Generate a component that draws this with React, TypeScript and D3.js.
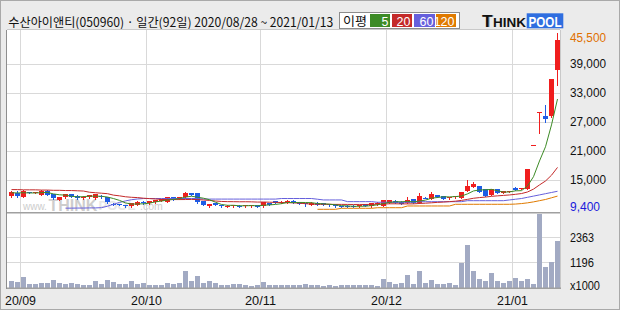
import React from 'react';
import * as d3 from 'd3';

const dates = [
  '2020-08-28','2020-08-31',
  '2020-09-01','2020-09-02','2020-09-03','2020-09-04','2020-09-07','2020-09-08','2020-09-09','2020-09-10','2020-09-11',
  '2020-09-14','2020-09-15','2020-09-16','2020-09-17','2020-09-18','2020-09-21','2020-09-22','2020-09-23','2020-09-24',
  '2020-09-25','2020-09-28','2020-09-29',
  '2020-10-05','2020-10-06','2020-10-07','2020-10-08','2020-10-12','2020-10-13','2020-10-14','2020-10-15','2020-10-16',
  '2020-10-19','2020-10-20','2020-10-21','2020-10-22','2020-10-23','2020-10-26','2020-10-27','2020-10-28','2020-10-29','2020-10-30',
  '2020-11-02','2020-11-03','2020-11-04','2020-11-05','2020-11-06','2020-11-09','2020-11-10','2020-11-11','2020-11-12','2020-11-13',
  '2020-11-16','2020-11-17','2020-11-18','2020-11-19','2020-11-20','2020-11-23','2020-11-24','2020-11-25','2020-11-26','2020-11-27','2020-11-30',
  '2020-12-01','2020-12-02','2020-12-03','2020-12-04','2020-12-07','2020-12-08','2020-12-09','2020-12-10','2020-12-11',
  '2020-12-14','2020-12-15','2020-12-16','2020-12-17','2020-12-18','2020-12-21','2020-12-22','2020-12-23','2020-12-24',
  '2020-12-28','2020-12-29','2020-12-30',
  '2021-01-04','2021-01-05','2021-01-06','2021-01-07','2021-01-08','2021-01-11','2021-01-12','2021-01-13',
];

const opens = [11560,12180,11470,12350,12250,11830,12700,11970,10790,11350,12030,11680,11140,11350,11140,11680,11470,10000,9950,9750,
  9450,9750,10400,10100,10310,10580,10440,11470,11000,11350,12180,12180,10600,9500,10200,9800,9420,9450,9550,9450,
  9450,9650,9450,10200,10500,10150,10150,10650,10300,10150,9800,10250,10100,9900,9900,9500,9600,9600,9450,9900,
  9450,9900,9600,10250,10650,10450,10250,10950,10250,11300,11000,11800,11600,11150,11350,11250,12650,13550,13700,13000,
  11800,13000,12300,12400,13350,13050,13100,22300,28950,28300,28300,37750];
const highs = [12700,12650,12800,12500,12450,12800,12900,12050,11400,12100,12100,11750,11550,11900,12100,11750,11500,10150,10050,9800,
  10200,10500,10500,10650,10850,11000,11500,11500,11500,12500,12250,12250,10650,10000,10250,9850,9650,9800,9750,9700,
  9700,9700,10350,10250,10550,10500,10700,10700,10350,10200,10300,10300,10150,9950,9950,9600,9650,9650,9700,9950,
  10150,10300,10850,10850,10700,10500,11350,11000,12200,11400,12400,11850,11650,11500,11650,12550,14850,14500,13750,13050,
  13050,13050,12700,12700,13400,13300,17150,22300,28950,30500,35850,45500];
const lows = [11350,11350,11400,12150,12200,11800,11800,11100,10700,11300,11450,11100,11100,11300,11100,11300,10250,9800,9750,9420,
  9400,9700,10050,10050,10250,10550,10400,10750,10950,11300,11800,10100,9700,9400,9650,9420,9400,9420,9400,9420,
  9420,9400,9400,9800,10100,10100,10100,10100,9950,9450,9750,9750,9750,9600,9420,9400,9420,9420,9420,9450,
  9400,9850,9550,10200,10200,9900,10200,10200,10200,11150,10950,11450,10950,11100,11300,11200,12600,13500,12450,11650,
  11750,12250,12250,12350,12800,13000,13000,22300,24600,27050,28000,34650];
const closes = [12350,11620,12650,12250,12400,12650,11830,11140,11350,12030,11470,11140,11470,11830,12030,11350,10310,9950,9900,9450,
  10100,10440,10100,10580,10790,10940,11470,10790,11470,12300,11830,10440,9750,9950,9700,9450,9600,9750,9500,9650,
  9650,9420,10300,9850,10150,10450,10650,10150,10000,10100,10250,9800,9800,9650,9450,9450,9450,9450,9650,9500,
  10100,10250,10800,10800,10250,9950,10800,10250,11600,11250,11950,11500,11000,11450,11600,12500,13750,14050,12500,11700,
  13000,12300,12650,12650,12850,13200,17150,22300,28950,27600,35850,44000];
// volume, x1000 shares
const volumes = [298,251,486,188,173,204,204,345,204,173,204,173,126,141,298,173,345,251,173,173,
  298,173,204,126,126,126,204,188,204,769,298,533,204,298,204,141,126,157,157,126,
  78,110,251,126,110,110,110,110,126,157,110,110,78,110,78,110,110,110,110,110,
  110,78,392,251,188,204,580,157,769,204,345,173,173,204,110,1145,1993,769,392,298,
  675,298,204,298,439,298,392,157,3450,957,1192,2181];

const ma5 = [12300,12250,12300,12250,12250,12310,12360,12050,11870,11800,11560,11430,11490,11590,11590,11560,11400,11090,10710,10190,
  9940,9970,10000,10130,10400,10570,10780,10910,11090,11390,11570,11370,11160,10850,10330,9860,9690,9690,9600,9590,
  9630,9590,9700,9770,9870,10030,10280,10250,10280,10270,10230,10060,9990,9920,9790,9630,9560,9490,9490,9500,
  9630,9790,10060,10290,10440,10410,10520,10410,10570,10770,11170,11310,11460,11430,11500,11610,12060,12670,12880,12900,
  13000,12710,12430,12460,12690,12730,13700,15630,18890,21840,26370,31740];
const ma20 = [12950,12950,12900,12900,12900,12850,12850,12800,12800,12750,12750,12700,12650,12400,12300,12200,12100,11800,11650,
  11460,11350,11290,11160,11080,11000,10910,10890,10880,10880,10890,10910,10880,10790,10700,10580,10490,10450,10440,10420,10430,
  10410,10360,10370,10330,10300,10270,10230,10200,10130,10020,9940,9910,9910,9890,9880,9880,9870,9860,9870,9860,
  9880,9920,9950,10000,10000,9980,9980,9990,10070,10130,10210,10300,10360,10450,10550,10710,10920,11150,11290,11400,
  11550,11650,11740,11840,11970,12130,12450,13050,13920,14730,15930,17550];
const N = null;
const ma60 = [N,N,N,N,N,N,N,N,N,
  9100,9100,9120,9120,9150,9150,9200,9500,9900,10300,10600,10850,11000,
  11100,11100,11100,11100,11100,11100,11100,11100,11100,11100,
  10980,10980,10980,10980,10980,10980,10980,10980,10980,10980,10980,10980,10980,
  11100,11100,11100,11100,11100,11100,10950,10800,10800,10800,10800,
  10450,10450,10450,10450,10450,10320,10320,10320,10320,10320,10320,10320,
  10440,10440,10440,10440,10440,10440,10440,10440,10650,10650,10650,10650,10650,10650,10650,
  10800,10950,11100,11350,11600,11850,12100,12350,12600];
const ma120 = [N,N,N,N,N,N,N,N,N,N,N,N,N,N,N,N,N,N,N,N,N,N,N,N,N,N,N,N,N,N,
  N,N,N,N,N,N,N,N,N,N,N,N,N,N,N,N,N,N,N,N,N,
  8860,8860,8860,8860,9070,9070,9070,9070,9070,9070,9190,9190,9190,9190,9190,
  9550,9550,9550,9550,9550,9550,9550,9550,9900,9900,9900,9900,9900,9900,9900,9900,9900,9900,
  9950,10050,10200,10400,10650,10900,11250,11600];

const priceTicks = [39000, 33000, 27000, 21000, 15000];
const priceMax = 45500;
const priceMin = 9400;
const volTicks = [2363, 1196];
const maPeriods = ['5', '20', '60', '120'];
const maColors = ['#3d8b26', '#c42a2a', '#6660dc', '#e07a00'];

const FONT = '"Liberation Sans", Arial, sans-serif';
const KFONT = '"Noto Sans CJK KR", "Noto Sans", sans-serif';

export default function App() {
  const n = closes.length;
  const idx = d3.range(n);
  const xLeft = d3.scaleLinear().domain([0, n - 1]).range([9, 555]);
  const bw = 5;
  const cx = (i: number) => xLeft(i) + 2.5;
  const y = d3.scaleLinear().domain([priceMin, priceMax]).range([206.7, 32.7]);
  const yv = d3.scaleLinear().domain([0, volTicks[0]]).range([287.7, 237.3]);

  const plotL = 7, plotR = 560, pTop = 30, pBot = 212, vTop = 213, vBot = 288;

  const monthStarts = idx.filter(i => i > 0 && dates[i].slice(5, 7) !== dates[i - 1].slice(5, 7));
  const fmt = (i: number) => `${dates[i].slice(2, 4)}/${dates[i].slice(5, 7)}`;

  const maLine = (arr: (number | null)[]) =>
    d3.line<number>()
      .defined(i => arr[i] != null)
      .x(i => cx(i))
      .y(i => y(arr[i] as number))(idx) || '';

  const fmtK = d3.format(',');
  const red = '#f01e1e', blue = '#1e5ce6';

  return (
    <svg width={620} height={310} style={{ position: 'absolute', left: 0, top: 0, display: 'block' }}
      xmlns="http://www.w3.org/2000/svg">
      <defs>
        <clipPath id="pclip"><rect x={plotL} y={pTop} width={plotR - plotL} height={pBot - pTop} /></clipPath>
        <clipPath id="vclip"><rect x={plotL} y={vTop - 1} width={plotR - plotL} height={vBot - vTop + 1} /></clipPath>
      </defs>
      <rect x={0} y={0} width={620} height={310} fill="#ebebeb" />
      <rect x={0.5} y={0.5} width={619} height={309} fill="none" stroke="#a9a9a9" />

      {/* header */}
      <text x={8.3} y={27} fontFamily={KFONT} fontSize={12.5} fill="#111" textLength={325} lengthAdjust="spacingAndGlyphs">
        수산아이앤티(050960) · 일간(92일) 2020/08/28 ~ 2021/01/13
      </text>
      <rect x={339.5} y={12.5} width={120} height={16} fill="#fff" stroke="#8c8c8c" />
      <text x={343} y={26} fontFamily={KFONT} fontSize={12.5} fill="#111" textLength={24} lengthAdjust="spacingAndGlyphs">이평</text>
      {maPeriods.map((p, k) => {
        const bx = [370, 392, 414, 436][k];
        const w = [20, 20, 21, 20][k];
        return (
          <g key={p}>
            <rect x={bx} y={14} width={w} height={13} fill={maColors[k]} />
            <text x={bx + w - 1.5} y={25.5} textAnchor="end" fontFamily={FONT} fontSize={12.5} fill="#fff">{p}</text>
          </g>
        );
      })}
      {/* logo */}
      <text x={483} y={27.3} fontFamily={FONT} fontWeight="bold" fontSize={17} fill="#999">T</text>
      <text x={482} y={26.5} fontFamily={FONT} fontWeight="bold" fontSize={17} fill="#111">T</text>
      <text x={493} y={26.5} fontFamily={FONT} fontWeight="bold" fontSize={12.5} fill="#111" textLength={33} lengthAdjust="spacingAndGlyphs">HINK</text>
      <rect x={526.7} y={13.3} width={36.6} height={15} fill="#2f6ee0" />
      <text x={528.5} y={26.5} fontFamily={FONT} fontWeight="bold" fontSize={15} fill="#fff" textLength={33} lengthAdjust="spacingAndGlyphs">POOL</text>

      {/* plot backgrounds */}
      <rect x={plotL} y={pTop} width={plotR - plotL} height={vBot - pTop} fill="#fff" />

      {/* grid */}
      {priceTicks.map(t => (
        <line key={t} x1={plotL} x2={plotR} y1={Math.round(y(t)) + 0.5} y2={Math.round(y(t)) + 0.5} stroke="#d9d9d9" />
      ))}
      {volTicks.map(t => (
        <line key={t} x1={plotL} x2={plotR} y1={Math.round(yv(t)) + 0.5} y2={Math.round(yv(t)) + 0.5} stroke="#d9d9d9" />
      ))}
      {monthStarts.map(i => (
        <line key={i} x1={xLeft(i) - 0.5} x2={xLeft(i) - 0.5} y1={pTop} y2={vBot} stroke="#d9d9d9" />
      ))}

      {/* watermark */}
      <g fontFamily={FONT} fill="#cdcdcd">
        <text x={23} y={210} fontSize={10}>www.</text>
        <text x={48.5} y={211} fontSize={16} fontWeight="bold">THINK</text>
        <text x={98.5} y={210} fontSize={13} fontWeight="bold" fill="#e6e6e6">POOL</text>
        <text x={140} y={210} fontSize={10.5}>.com</text>
      </g>

      {/* volume */}
      <g clipPath="url(#vclip)">
        {idx.map(i => {
          const top = Math.round(yv(volumes[i]));
          return <rect key={i} x={xLeft(i)} y={top} width={bw} height={Math.max(0, Math.round(vBot) - top)}
            fill="#a2aac3" shapeRendering="crispEdges" />;
        })}
      </g>

      {/* candles */}
      <g clipPath="url(#pclip)">
        {idx.map(i => {
          const up = closes[i] >= opens[i];
          const c = up ? red : blue;
          const yo = Math.round(y(opens[i])), yc = Math.round(y(closes[i]));
          const top = Math.min(yo, yc);
          const h = Math.max(1, Math.abs(yo - yc));
          return (
            <g key={i}>
              <line x1={cx(i)} x2={cx(i)} y1={Math.round(y(highs[i]))} y2={Math.round(y(lows[i])) + 1} stroke={c} />
              <rect x={xLeft(i)} y={top} width={bw} height={h} fill={c} shapeRendering="crispEdges" />
            </g>
          );
        })}
        {[ma120, ma60, ma20, ma5].map((arr, k) => (
          <path key={k} d={maLine(arr)} fill="none" stroke={maColors[3 - k]} strokeWidth={1} />
        ))}
      </g>

      {/* frame */}
      <line x1={plotL - 0.5} x2={plotL - 0.5} y1={pTop} y2={vBot + 1} stroke="#8e8e8e" />
      <line x1={plotL} x2={plotR} y1={pTop - 0.5} y2={pTop - 0.5} stroke="#c9c9c9" />
      <line x1={plotR + 0.5} x2={plotR + 0.5} y1={pTop} y2={vBot} stroke="#c9c9c9" />
      <rect x={plotL} y={pBot} width={plotR - plotL} height={1.5} fill="#a0a0a0" />
      <rect x={plotL} y={vBot - 0.5} width={plotR - plotL + 1} height={1.5} fill="#a0a0a0" />

      {/* right axis labels */}
      <g fontFamily={FONT} fontSize={12}>
        <text x={570} y={38.3} dominantBaseline="central" fill="#e07000" textLength={36} lengthAdjust="spacingAndGlyphs">{fmtK(priceMax)}</text>
        {priceTicks.map(t => (
          <text key={t} x={570} y={y(t)} dominantBaseline="central" fill="#111" textLength={36} lengthAdjust="spacingAndGlyphs">{fmtK(t)}</text>
        ))}
        <text x={570} y={206.7} dominantBaseline="central" fill="#1a1adc" textLength={30} lengthAdjust="spacingAndGlyphs">{fmtK(priceMin)}</text>
        {volTicks.map(t => (
          <text key={t} x={570} y={yv(t) + 0.8} dominantBaseline="central" fill="#111" textLength={24} lengthAdjust="spacingAndGlyphs">{t}</text>
        ))}
        <text x={570} y={285.7} dominantBaseline="central" fill="#111" textLength={30} lengthAdjust="spacingAndGlyphs">x1000</text>
      </g>

      {/* x labels */}
      <g fontFamily={FONT} fontSize={12} fill="#111">
        {monthStarts.map(i => (
          <text key={i} x={xLeft(i) - 0.5} y={301} textAnchor="middle" dominantBaseline="central" textLength={31} lengthAdjust="spacingAndGlyphs">{fmt(i)}</text>
        ))}
      </g>
    </svg>
  );
}
